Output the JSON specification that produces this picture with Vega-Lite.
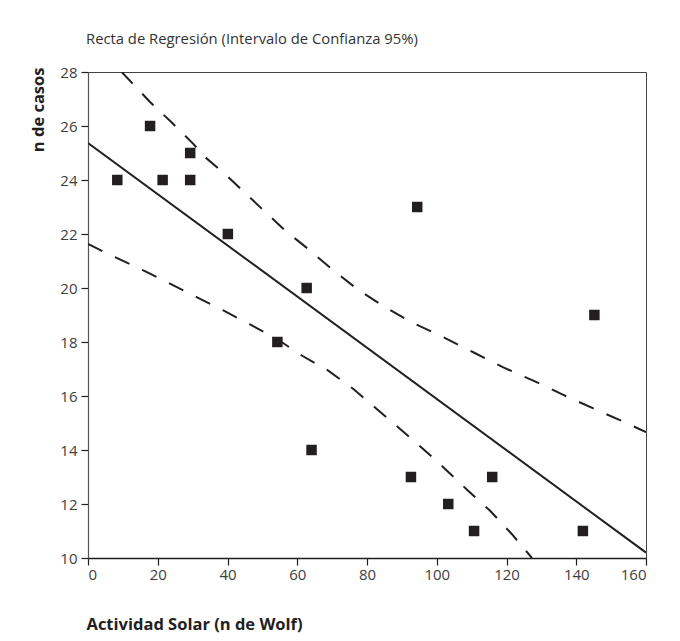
{
  "$schema": "https://vega.github.io/schema/vega-lite/v6.json",
  "width": 558,
  "height": 486,
  "autosize": "none",
  "padding": {"left": 88, "top": 72, "right": 34, "bottom": 83},
  "background": "white",
  "config": {
    "font": "Open Sans",
    "view": {"stroke": "#444444", "strokeWidth": 1},
    "axis": {
      "grid": false,
      "domainColor": "#231f20",
      "domainWidth": 1.5,
      "tickColor": "#231f20",
      "tickWidth": 1.2,
      "tickSize": 7,
      "labelFont": "Open Sans",
      "labelFontSize": 15,
      "labelColor": "#404040",
      "titleFont": "Open Sans",
      "titleFontWeight": "bold",
      "titleFontSize": 16.5,
      "titleColor": "#231f20"
    }
  },
  "title": {
    "text": "Recta de Regresión (Intervalo de Confianza 95%)",
    "anchor": "start",
    "frame": "group",
    "baseline": "alphabetic",
    "offset": 6,
    "dx": -2,
    "font": "Open Sans",
    "fontSize": 14.8,
    "fontWeight": "normal",
    "color": "#333333"
  },
  "datasets": {
    "puntos": [
      {"actividad": 8.4, "casos": 24},
      {"actividad": 17.8, "casos": 26},
      {"actividad": 21.4, "casos": 24},
      {"actividad": 29.3, "casos": 25},
      {"actividad": 29.3, "casos": 24},
      {"actividad": 40.1, "casos": 22},
      {"actividad": 54.3, "casos": 18},
      {"actividad": 62.7, "casos": 20},
      {"actividad": 64.1, "casos": 14},
      {"actividad": 92.6, "casos": 13},
      {"actividad": 94.4, "casos": 23},
      {"actividad": 103.3, "casos": 12},
      {"actividad": 110.7, "casos": 11},
      {"actividad": 115.9, "casos": 13},
      {"actividad": 141.9, "casos": 11},
      {"actividad": 145.2, "casos": 19}
    ],
    "recta": [
      {"actividad": 0, "casos": 25.37},
      {"actividad": 160, "casos": 10.2}
    ],
    "bandas": [
      {"banda": "superior", "actividad": 9.66, "casos": 28.0},
      {"banda": "superior", "actividad": 17.78, "casos": 26.89},
      {"banda": "superior", "actividad": 24.17, "casos": 26.11},
      {"banda": "superior", "actividad": 30.19, "casos": 25.34},
      {"banda": "superior", "actividad": 33.55, "casos": 24.85},
      {"banda": "superior", "actividad": 40.23, "casos": 24.11},
      {"banda": "superior", "actividad": 49.81, "casos": 22.94},
      {"banda": "superior", "actividad": 56.49, "casos": 22.13},
      {"banda": "superior", "actividad": 63.66, "casos": 21.39},
      {"banda": "superior", "actividad": 70.34, "casos": 20.65},
      {"banda": "superior", "actividad": 77.5, "casos": 19.93},
      {"banda": "superior", "actividad": 85.16, "casos": 19.29},
      {"banda": "superior", "actividad": 93.28, "casos": 18.7},
      {"banda": "superior", "actividad": 100.93, "casos": 18.24},
      {"banda": "superior", "actividad": 110.48, "casos": 17.62},
      {"banda": "superior", "actividad": 119.08, "casos": 17.06},
      {"banda": "superior", "actividad": 127.68, "casos": 16.57},
      {"banda": "superior", "actividad": 136.29, "casos": 16.04},
      {"banda": "superior", "actividad": 144.89, "casos": 15.54},
      {"banda": "superior", "actividad": 153.49, "casos": 15.05},
      {"banda": "superior", "actividad": 160.0, "casos": 14.66},
      {"banda": "inferior", "actividad": 0.0, "casos": 21.63},
      {"banda": "inferior", "actividad": 7.74, "casos": 21.14},
      {"banda": "inferior", "actividad": 15.87, "casos": 20.65},
      {"banda": "inferior", "actividad": 23.5, "casos": 20.16},
      {"banda": "inferior", "actividad": 31.15, "casos": 19.66},
      {"banda": "inferior", "actividad": 38.8, "casos": 19.17},
      {"banda": "inferior", "actividad": 46.45, "casos": 18.65},
      {"banda": "inferior", "actividad": 54.1, "casos": 18.12},
      {"banda": "inferior", "actividad": 61.3, "casos": 17.5},
      {"banda": "inferior", "actividad": 68.9, "casos": 16.94},
      {"banda": "inferior", "actividad": 76.1, "casos": 16.26},
      {"banda": "inferior", "actividad": 82.8, "casos": 15.52},
      {"banda": "inferior", "actividad": 89.5, "casos": 14.78},
      {"banda": "inferior", "actividad": 96.1, "casos": 14.04},
      {"banda": "inferior", "actividad": 102.4, "casos": 13.3},
      {"banda": "inferior", "actividad": 109.0, "casos": 12.49},
      {"banda": "inferior", "actividad": 115.3, "casos": 11.75},
      {"banda": "inferior", "actividad": 121.5, "casos": 10.89},
      {"banda": "inferior", "actividad": 127.3, "casos": 10.0}
    ]
  },
  "encoding": {
    "x": {
      "field": "actividad",
      "type": "quantitative",
      "scale": {"domain": [0, 160], "nice": false, "zero": false},
      "axis": {
        "title": "Actividad Solar (n de Wolf)",
        "values": [0, 20, 40, 60, 80, 100, 120, 140, 160],
        "labelPadding": 2,
        "titleAnchor": "start",
        "titleAlign": "left",
        "titleBaseline": "alphabetic",
        "titleX": -2,
        "titleY": 71
      }
    },
    "y": {
      "field": "casos",
      "type": "quantitative",
      "scale": {"domain": [10, 28], "nice": false, "zero": false},
      "axis": {
        "title": "n de casos",
        "values": [10, 12, 14, 16, 18, 20, 22, 24, 26, 28],
        "labelPadding": 4,
        "domainColor": "#555555",
        "domainWidth": 1.2,
        "titleAngle": 270,
        "titleAlign": "right",
        "titleBaseline": "alphabetic",
        "titleX": -45,
        "titleY": -5
      }
    }
  },
  "layer": [
    {
      "data": {"name": "bandas"},
      "mark": {"type": "line", "color": "#231f20", "strokeWidth": 2, "strokeDash": [16, 14], "clip": true},
      "encoding": {"detail": {"field": "banda", "type": "nominal"}}
    },
    {
      "data": {"name": "recta"},
      "mark": {"type": "line", "color": "#231f20", "strokeWidth": 2, "clip": true},
      "encoding": {}
    },
    {
      "data": {"name": "puntos"},
      "mark": {"type": "square", "filled": true, "opacity": 1, "color": "#231f20", "size": 110},
      "encoding": {}
    }
  ]
}
